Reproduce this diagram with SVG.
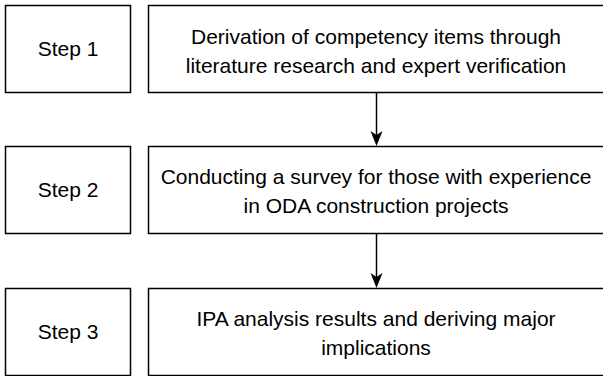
<svg xmlns="http://www.w3.org/2000/svg" width="603" height="376" viewBox="0 0 603 376">
<style>
.box{fill:#fff;stroke:#000;stroke-width:1.5}
.t{font-family:"Liberation Sans",Arial,sans-serif;font-size:21px;fill:#000;text-anchor:middle}
.c{stroke:#000;stroke-width:1.5;fill:none}
.ah{fill:#000}
</style>
<rect width="603" height="376" fill="#fff"/>
<g id="step1"><rect class="box" x="5.5" y="5.5" width="125" height="87"/><text class="t" x="68" y="56">Step 1</text></g>
<g id="node1"><rect class="box" x="148.5" y="5.5" width="457" height="87"/><text class="t" x="376" y="44">Derivation of competency items through</text><text class="t" x="376" y="73">literature research and expert verification</text></g>
<g id="step2"><rect class="box" x="5.5" y="146.5" width="125" height="87"/><text class="t" x="68" y="197">Step 2</text></g>
<g id="node2"><rect class="box" x="148.5" y="146.5" width="457" height="87"/><text class="t" x="376" y="184">Conducting a survey for those with experience</text><text class="t" x="376" y="213">in ODA construction projects</text></g>
<g id="step3"><rect class="box" x="5.5" y="288.5" width="125" height="87"/><text class="t" x="68" y="339">Step 3</text></g>
<g id="node3"><rect class="box" x="148.5" y="288.5" width="457" height="87"/><text class="t" x="376" y="326">IPA analysis results and deriving major</text><text class="t" x="376" y="355">implications</text></g>
<g id="connectors">
<path d="M376.5,93 L376.5,140" class="c"/>
<path class="ah" d="M370.5,131 L376.5,146 L382.5,131 L376.5,135 Z"/>
<path d="M376.5,234 L376.5,282" class="c"/>
<path class="ah" d="M370.5,273 L376.5,288 L382.5,273 L376.5,277 Z"/>
</g>
</svg>
